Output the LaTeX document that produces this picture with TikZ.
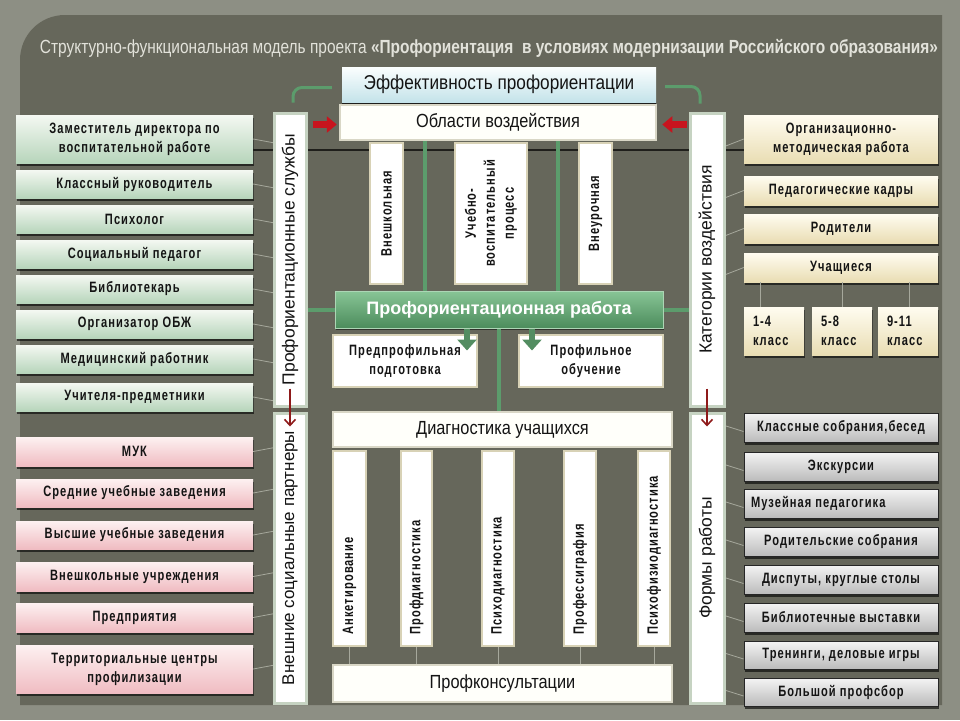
\documentclass[tikz,border=0pt]{standalone}
\usepackage{fontspec}
\setmainfont{Liberation Sans}
\newfontfamily\bxf[FakeStretch=0.74,LetterSpace=7]{Liberation Sans}
\newfontfamily\nrf[FakeStretch=0.86]{Liberation Sans}
\usetikzlibrary{arrows.meta,shadows,calc}
\definecolor{outer}{HTML}{8D8F84}
\definecolor{panel}{HTML}{66675B}
\definecolor{txt}{HTML}{141414}
\definecolor{gtop}{HTML}{F4F8F2}
\definecolor{gbot}{HTML}{B7D5BB}
\definecolor{ptop}{HTML}{FDF1F1}
\definecolor{pbot}{HTML}{F0BCC2}
\definecolor{ctop}{HTML}{FFFCF0}
\definecolor{cbot}{HTML}{E9DDB3}
\definecolor{ytop}{HTML}{F4F4F4}
\definecolor{ybot}{HTML}{BBBBBB}
\definecolor{vbord}{HTML}{C6D3C2}
\definecolor{wfill}{HTML}{FFFFFA}
\definecolor{wbord}{HTML}{D9D7C6}
\definecolor{sbord}{HTML}{D8D2B6}
\definecolor{etop}{HTML}{FBFEFE}
\definecolor{ebot}{HTML}{C4E3EA}
\definecolor{bartop}{HTML}{88C596}
\definecolor{barbot}{HTML}{4C8C5C}
\definecolor{gln}{HTML}{5C9C6C}
\definecolor{redc}{HTML}{C8141E}
\definecolor{dred}{HTML}{8E1A1A}
\definecolor{fln}{HTML}{A6A89C}
\definecolor{ttl}{HTML}{E2E2DA}
\newcommand\bx[7]{\node[#1,minimum width={(#5-#3)*1pt},minimum height={(#6-#4)*1pt}] (#2) at ({(#3+#5)/2},{(#4+#6)/2}) {#7};}
\begin{document}
\begin{tikzpicture}[x=1pt,y=-1pt,
  base/.style={rectangle,inner sep=1pt,align=center,text=txt,font=\bxf\bfseries\fontsize{15}{19}\selectfont},
  shd/.style={drop shadow={shadow xshift=1pt,shadow yshift=-2.5pt,fill=black,opacity=0.6}},
  gbox/.style={base,shd,top color=gtop,bottom color=gbot},
  pbox/.style={base,shd,top color=ptop,bottom color=pbot},
  cbox/.style={base,shd,top color=ctop,bottom color=cbot},
  ybox/.style={base,shd,top color=ytop,bottom color=ybot,draw=black!85,line width=0.9pt},
  vbig/.style={rectangle,inner sep=0pt,fill=white,draw=vbord,line width=3pt,text=txt,font=\fontsize{17.5}{20}\selectfont},
  wbox/.style={rectangle,inner sep=1pt,fill=wfill,draw=wbord,line width=2.5pt,text=txt,font=\nrf\fontsize{19}{22}\selectfont},
  vsm/.style={base,fill=white,draw=sbord,line width=2.5pt},
  effbox/.style={rectangle,inner sep=1pt,top color=etop,bottom color=ebot,text=txt,font=\nrf\fontsize{20}{22}\selectfont,
     drop shadow={shadow xshift=0pt,shadow yshift=-2pt,fill=black,opacity=0.7}},
  barbox/.style={rectangle,inner sep=1pt,top color=bartop,bottom color=barbot,draw=bartop!70!white,line width=1pt,text=white,
     font=\bfseries\fontsize{18}{20}\selectfont,drop shadow={shadow xshift=1pt,shadow yshift=-2pt,fill=black,opacity=0.5}},
  fline/.style={fln,line width=0.8pt},
  gline/.style={gln,line width=4pt},
  gbr/.style={gln,line width=3pt,rounded corners=9pt},
  garrow/.style={gln!90!black,line width=6pt,-{Triangle[width=19pt,length=11pt]}},
  rarrow/.style={redc,line width=7pt,-{Triangle[width=16pt,length=10pt]}},
  tarrow/.style={dred,line width=1.6pt,-{Straight Barb[length=6pt,width=11pt]}}
]
\useasboundingbox (0,0) rectangle (960,720);
\fill[outer] (0,0) rectangle (960,720);
\fill[panel] (20,705) -- (20,60) .. controls (20,35) and (40,15) .. (65,15) -- (942,15) -- (942,705) -- cycle;
\node[text=ttl,inner sep=0pt] (title) at (489,48) {\resizebox{898pt}{\height}{\fontsize{19}{22}\selectfont Структурно-функциональная модель проекта \textbf{«Профориентация\ \ в условиях модернизации Российского образования»}}};

\bx{gbox}{g1}{16}{115}{253}{163}{Заместитель директора по\\воспитательной работе}
\bx{gbox}{g2}{16}{170}{253}{198}{Классный руководитель}
\bx{gbox}{g3}{16}{205}{253}{233}{Психолог}
\bx{gbox}{g4}{16}{240}{253}{268}{Социальный педагог}
\bx{gbox}{g5}{16}{275}{253}{303}{Библиотекарь}
\bx{gbox}{g6}{16}{310}{253}{338}{Организатор ОБЖ}
\bx{gbox}{g7}{16}{345}{253}{373}{Медицинский работник}
\bx{gbox}{g8}{16}{383}{253}{411}{Учителя-предметники}

\bx{pbox}{p1}{16}{437}{253}{466}{МУК}
\bx{pbox}{p2}{16}{479}{253}{507}{Средние учебные заведения}
\bx{pbox}{p3}{16}{521}{253}{549}{Высшие учебные заведения}
\bx{pbox}{p4}{16}{562}{253}{591}{Внешкольные учреждения}
\bx{pbox}{p5}{16}{603}{253}{632}{Предприятия}
\bx{pbox}{p6}{16}{645}{253}{693}{Территориальные центры\\профилизации}

\bx{cbox}{o1}{744}{115}{938}{163}{Организационно-\\методическая работа}
\bx{cbox}{o2}{744}{176}{938}{205}{Педагогические кадры}
\bx{cbox}{o3}{744}{214}{938}{243}{Родители}
\bx{cbox}{o4}{744}{253}{938}{282}{Учащиеся}
\bx{cbox,align=left,text width=42pt}{k1}{744}{307}{804}{355}{1-4\\класс}
\bx{cbox,align=left,text width=42pt}{k2}{812}{307}{872}{355}{5-8\\класс}
\bx{cbox,align=left,text width=42pt}{k3}{878}{307}{938}{355}{9-11\\класс}

\bx{ybox}{f1}{744}{413}{938}{442}{Классные собрания,бесед}
\bx{ybox}{f2}{744}{452}{938}{481}{Экскурсии}
\bx{ybox}{f3}{744}{489}{938}{518}{\makebox[180pt][l]{Музейная педагогика}}
\bx{ybox}{f4}{744}{527}{938}{556}{Родительские собрания}
\bx{ybox}{f5}{744}{565}{938}{594}{Диспуты, круглые столы}
\bx{ybox}{f6}{744}{603}{938}{632}{Библиотечные выставки}
\bx{ybox}{f7}{744}{641}{938}{669}{Тренинги, деловые игры}
\bx{ybox}{f8}{744}{678}{938}{706}{Большой профсбор}

\foreach \g in {g1,g2,g3,g4,g5,g6,g7,g8}{\draw[fline] (\g.east) -- ($(280,0 |- \g.east)+(0,5)$);}
\foreach \p in {p1,p2,p3,p4,p5,p6}{\draw[fline] (\p.east) -- ($(280,0 |- \p.east)+(0,-5)$);}
\foreach \o in {o1,o2,o3,o4}{\draw[fline] ($(718,0 |- \o.west)+(0,10)$) -- (\o.west);}
\foreach \f in {f1,f2,f3,f4,f5,f6,f7,f8}{\draw[fline] ($(718,0 |- \f.west)+(0,-4)$) -- ($(\f.west)+(0,4)$);}
\draw[fline] ($(k1.north)+(-14,0)$) -- ($(o4.south -| k1.north)+(-14,0)$);
\draw[fline] (k2.north) -- (o4.south -| k2.north);
\draw[fline] ($(k3.north)+(1,0)$) -- ($(o4.south -| k3.north)+(1,0)$);
\draw[black!70!panel,line width=2.2pt] ($(g1.east)+(0,11)$) -- ($(o1.west)+(0,11)$);

\bx{effbox}{eff}{342}{67}{656}{102}{Эффективность профориентации}
\bx{wbox}{ob}{340}{105}{656}{140}{Области воздействия}
\draw[gline] ([xshift=-73pt]ob.south) -- ++(0,152);
\draw[gline] ([xshift=60pt]ob.south) -- ++(0,152);
\bx{vsm}{a1}{370}{143}{403}{284}{\rotatebox{90}{Внешкольная}}
\bx{vsm}{a2}{455}{143}{527}{284}{\rotatebox{90}{\begin{tabular}{@{}c@{}}Учебно-\\воспитательный\\процесс\end{tabular}}}
\bx{vsm}{a3}{579}{143}{612}{284}{\rotatebox{90}{Внеурочная}}

\bx{vbig}{ps}{274}{113}{306}{406}{\rotatebox{90}{Профориентационные службы}}
\bx{vbig}{sp}{274}{413}{306}{703}{\rotatebox{90}{\fontsize{17}{20}\selectfont Внешние социальные партнеры}}
\bx{vbig}{kv}{690}{113}{724}{406}{\rotatebox{90}{Категории воздействия}}
\bx{vbig}{fr}{690}{413}{724}{703}{\rotatebox{90}{Формы работы}}

\bx{barbox}{bar}{335}{291}{663}{328}{Профориентационная работа}
\draw[gline] (ps.east |- bar.west) -- (bar.west);
\draw[gline] (bar.east) -- (kv.west |- bar.east);
\draw[gline] (bar.south) -- (bar.south |- 0,412);

\bx{vsm}{pp}{333}{335}{477}{387}{Предпрофильная\\подготовка}
\bx{vsm}{po}{519}{335}{663}{387}{Профильное\\обучение}
\draw[garrow] ([xshift=-32pt]bar.south) -- ++(0,22);
\draw[garrow] ([xshift=33pt]bar.south) -- ++(0,22);

\bx{wbox}{dg}{333}{412}{672}{447}{Диагностика учащихся}
\bx{wbox}{pk}{333}{665}{672}{702}{Профконсультации}
\bx{vsm}{d1}{333}{451}{366}{646}{\rotatebox{90}{\makebox[172pt][l]{Анкетирование}}}
\bx{vsm}{d2}{401}{451}{432}{646}{\rotatebox{90}{\makebox[172pt][l]{Профдиагностика}}}
\bx{vsm}{d3}{482}{451}{514}{646}{\rotatebox{90}{\makebox[172pt][l]{Психодиагностика}}}
\bx{vsm}{d4}{564}{451}{596}{646}{\rotatebox{90}{\makebox[172pt][l]{Профессиграфия}}}
\bx{vsm}{d5}{638}{451}{670}{646}{\rotatebox{90}{\makebox[172pt][l]{Психофизиодиагностика}}}
\foreach \d in {d1,d2,d3,d4,d5}{\draw[fline] (\d.south) -- (pk.north -| \d.south);}

\draw[gbr] ($(ps.north)+(3,-9)$) |- ($(eff.west)+(-10,3)$);
\draw[gbr] ($(eff.east)+(9,2)$) -| ($(kv.north)+(-7,-8)$);
\draw[rarrow] ($(ps.east |- ob.west)+(5,2)$) -- ($(ob.west)+(-2,2)$);
\draw[rarrow] ($(kv.west |- ob.east)+(-2,2)$) -- ($(ob.east)+(5,2)$);
\draw[tarrow] ([yshift=19pt]ps.south) -- ([yshift=-15pt]sp.north);
\draw[tarrow] ([yshift=19pt]kv.south) -- ([yshift=-15pt]fr.north);
\end{tikzpicture}
\end{document}
